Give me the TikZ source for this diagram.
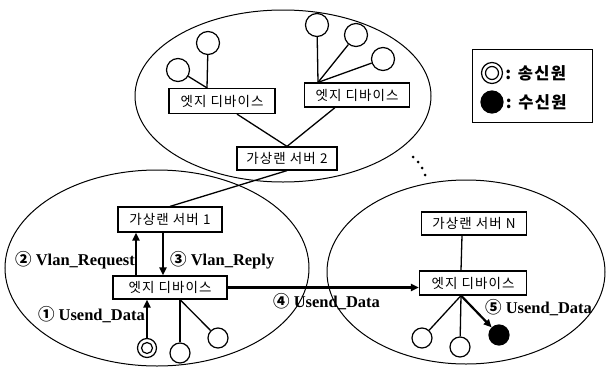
\documentclass[tikz,border=0pt]{standalone}
\usepackage{fontspec}
\setmainfont{Liberation Serif}
\newfontfamily\kor[LetterSpace=8]{Noto Sans CJK KR}
\usetikzlibrary{arrows.meta}

\begin{document}
\begin{tikzpicture}[x=1pt,y=-1pt,
    devbox/.style={shape=rectangle,draw,line width=1.2pt,inner sep=1pt,font=\kor\fontsize{13.5}{14}\selectfont},
    term/.style={shape=circle,draw,line width=1.2pt,minimum size=20pt,inner sep=0pt},
    msg/.style={inner sep=0pt,font=\bfseries\fontsize{16.5}{17}\selectfont},
    link/.style={line width=1.3pt},
    flow/.style={line width=2.2pt,-{Triangle[length=8pt,width=7pt]}}]
    \useasboundingbox (0,0) rectangle (608,370);
    % three subnets
    \draw[line width=1pt] (283,96) ellipse [x radius=148pt, y radius=86pt];
    \draw[line width=1pt] (157,268) ellipse [x radius=152pt, y radius=98pt];
    \draw[line width=1pt] (466,272) ellipse [x radius=139pt, y radius=92pt];
    % top subnet
    \node[devbox,minimum width=106pt,minimum height=25pt] (edgeA) at (222,101) {엣지 디바이스};
    \node[devbox,minimum width=105pt,minimum height=24pt] (edgeB) at (357,95) {엣지 디바이스};
    \node[devbox,minimum width=100pt,minimum height=23pt] (srvB) at (287,158.5) {가상랜 서버 2};
    \node[term,minimum size=23pt] (a1) at (208,43) {};
    \node[term,minimum size=23pt] (a2) at (178,70) {};
    \node[term,minimum size=23pt] (b1) at (317,25) {};
    \node[term,minimum size=23pt] (b2) at (356,35) {};
    \node[term,minimum size=23pt] (b3) at (383,59) {};
    \coordinate (forkA) at ([xshift=-15pt]edgeA.north);
    \coordinate (forkB) at ([xshift=-39pt]edgeB.north);
    \draw[link] (forkA) -- (a1);
    \draw[link] (forkA) -- (a2);
    \draw[link] (forkB) -- (b1);
    \draw[link] (forkB) -- (b2);
    \draw[link] (forkB) -- (b3);
    \draw[link] ([xshift=15pt]edgeA.south) -- (srvB.north);
    \draw[link] ([xshift=-22pt]edgeB.south) -- (srvB.north);
    % left subnet
    \node[devbox,minimum width=104pt,minimum height=25pt] (srvA) at (170,219.5) {가상랜 서버 1};
    \node[devbox,minimum width=114pt,minimum height=23pt] (devL) at (170,287.5) {엣지 디바이스};
    \node[term,minimum size=19pt] (snd) at (147,348) {};
    \draw[line width=1.2pt] (snd.center) circle (5.5pt);
    \node[term] (c2) at (180,353) {};
    \node[term] (c3) at (218,338) {};
    \coordinate (forkL) at ([xshift=10pt]devL.south);
    \draw[link] (forkL) -- (c2);
    \draw[link] (forkL) -- (c3);
    \draw[link] (srvB.south) -- (srvA.north);
    \draw[flow] ([xshift=-34pt]devL.north) -- ([xshift=-34pt]srvA.south);
    \draw[flow] ([xshift=-7pt]srvA.south) -- ([xshift=-7pt]devL.north);
    \draw[flow] (snd.north) -- (snd.north |- devL.south);
    % right subnet
    \node[devbox,minimum width=105pt,minimum height=23pt] (srvN) at (474,223.5) {가상랜 서버 N};
    \node[devbox,minimum width=107pt,minimum height=24pt] (devR) at (473,283) {엣지 디바이스};
    \node[term] (d1) at (422,338) {};
    \node[term] (d2) at (460,347) {};
    \node[term,fill=black] (rcv) at (499,335) {};
    \coordinate (forkR) at ([xshift=-12pt]devR.south);
    \draw[link] ([xshift=-12pt]srvN.south) -- ([xshift=-12pt]devR.north);
    \draw[link] (forkR) -- (d1);
    \draw[link] (forkR) -- (d2);
    \draw[flow] (forkR) -- (rcv);
    \draw[flow] (devL.east) -- (devL.east -| devR.west);
    % labels
    \node[msg,anchor=east] (lblReq) at (135,260) {{\kor ②} Vlan\_Request};
    \node[msg,anchor=west] (lblRep) at (170,260) {{\kor ③} Vlan\_Reply};
    \node[msg,anchor=east] (lblSnd) at (145,315) {{\kor ①} Usend\_Data};
    \node[msg,anchor=west] (lblFwd) at (273,302) {{\kor ④} Usend\_Data};
    \node[msg,anchor=west] (lblRcv) at (485,308) {{\kor ⑤} Usend\_Data};
    % more subnets
    \foreach \px/\py in {413/157,418/162,422/168,425/175}
        \fill (\px,\py) circle (1.5pt);
    % legend
    \node[shape=rectangle,draw,line width=1pt,minimum width=120pt,minimum height=73pt] (legend) at (532,85.5) {};
    \node[term,minimum size=21pt] (keySnd) at (492,73) {};
    \draw[line width=1.2pt] (keySnd.center) circle (6.5pt);
    \node[term,minimum size=22pt,fill=black] (keyRcv) at (492,102) {};
    \node[anchor=west,inner sep=2pt,font=\kor\bfseries\fontsize{16.5}{17}\selectfont] at (keySnd.east) {: 송신원};
    \node[anchor=west,inner sep=2pt,font=\kor\bfseries\fontsize{16.5}{17}\selectfont] at (keyRcv.east) {: 수신원};
\end{tikzpicture}
\end{document}
